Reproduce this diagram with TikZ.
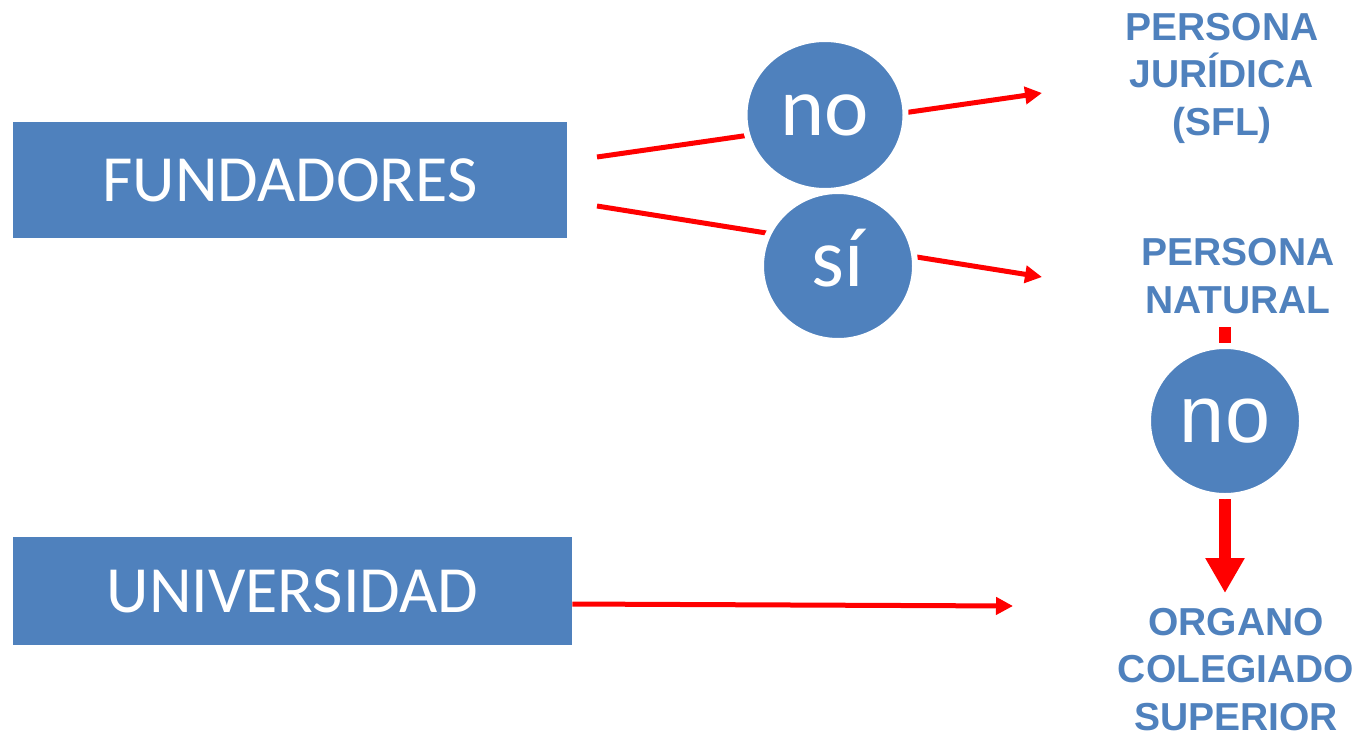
\documentclass[tikz,border=0pt]{standalone}
\usepackage{fontspec}
\usetikzlibrary{shapes.geometric,arrows.meta,calc}
\newfontfamily\carlito{Carlito}
\newfontfamily\arialr{Liberation Sans}
\newfontfamily\arialb{Liberation Sans Bold}
\definecolor{myblue}{HTML}{4F81BD}
\definecolor{myred}{HTML}{FF0000}
\tikzset{
  box/.style={fill=myblue, inner sep=0pt, text=white,
    font=\carlito\fontsize{49.5}{59}\selectfont},
  bubble/.style={ellipse, fill=myblue, draw=white, line width=4.5pt,
    text=white, inner sep=0pt},
  lbl/.style={text=myblue, font=\arialb\fontsize{29.25}{35.6}\selectfont,
    align=center, anchor=base, inner sep=0pt},
  redline/.style={draw=myred, line width=3.75pt,
    -{Triangle[length=12.75pt,width=12.75pt]}},
  bigarrow/.style={draw=myred, line width=9pt,
    -{Triangle[length=26.25pt,width=27.75pt]}}
}
\begin{document}
\begin{tikzpicture}[x=0.75pt,y=-0.75pt]
\useasboundingbox (0,0) rectangle (1360,736);
% boxes
\node[box, minimum width=415.5pt, minimum height=87pt] (fund) at (290,180) {FUNDADORES};
\node[box, minimum width=419.25pt, minimum height=81pt] (univ) at (292.5,591) {UNIVERSIDAD};
% labels (anchor = baseline of last line)
\node[lbl] (jur) at (1222,135) {PERSONA\\JURÍDICA\\(SFL)};
\node[lbl] (nat) at (1238,313) {PERSONA\\NATURAL};
\node[lbl] (org) at (1236,730) {ORGANO\\COLEGIADO\\SUPERIOR};
% connector ends
\coordinate (s1) at (597,157);
\coordinate (e1) at (1042,93);
\coordinate (s2) at (597,206);
\coordinate (e2) at (1042,277);
\coordinate (s3) at (1225,327);
\coordinate (e3) at (1225,593);
\coordinate (s4) at (univ.east |- 0,604);
\coordinate (e4) at (1013,606);
% connectors
\draw[redline] (s1) -- (e1);
\draw[redline] (s2) -- (e2);
\draw[bigarrow] (s3) -- (e3);
\draw[redline] (s4) -- (e4);
% bubbles
\node[bubble, minimum width=120.75pt, minimum height=114pt,
  font=\carlito\fontsize{63}{70}\selectfont] (no1) at (825,115) {no};
\node[bubble, minimum width=115.5pt, minimum height=112.5pt,
  font=\carlito\fontsize{63}{70}\selectfont] (si) at (838,266) {s\smash{í}};
\node[bubble, minimum width=115.5pt, minimum height=112.5pt,
  font=\arialr\fontsize{60.75}{68}\selectfont] (no2) at (1225,421) {no};
\end{tikzpicture}
\end{document}
